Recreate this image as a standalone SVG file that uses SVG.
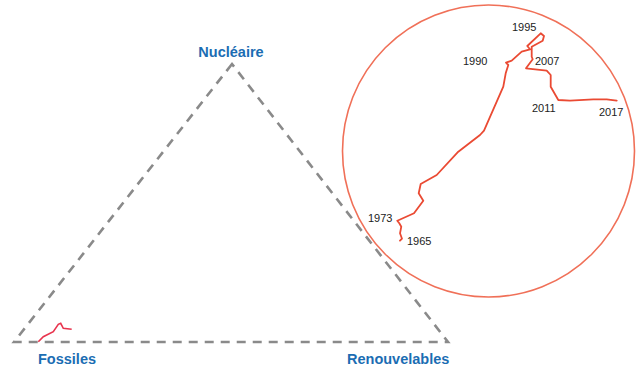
<svg xmlns="http://www.w3.org/2000/svg" width="637" height="371" viewBox="0 0 637 371">
<style>
.lbl{font-family:"Liberation Sans",Arial,sans-serif;font-weight:bold;font-size:14.5px;fill:#1b6db3}
.yr{font-family:"Liberation Sans",Arial,sans-serif;font-size:11px;fill:#222}
.tri{fill:none;stroke:#8a8a8a;stroke-width:2.6;stroke-dasharray:9 7}
.trace{fill:none;stroke:#ea4a33;stroke-width:1.8;stroke-linejoin:round;stroke-linecap:round}
</style>
<rect width="637" height="371" fill="#fff"/>
<g id="connectors">
<path class="tri" d="M232,64 L14,342 L448,342 Z"/>
</g>
<g id="fossiles">
<text class="lbl" x="38" y="364">Fossiles</text>
<path d="M38.3,341.7 L43.3,336.7 L53.3,331.7 L58.3,324.3 L60.7,323.3 L63.3,328.3 L71.7,329.3" fill="none" stroke="#e8344e" stroke-width="1.6"/>
</g>
<g id="nucleaire">
<text class="lbl" x="231" y="57" text-anchor="middle">Nucléaire</text>
</g>
<g id="renouvelables">
<text class="lbl" x="347" y="364">Renouvelables</text>
</g>
<g id="zoom-circle">
<circle cx="488.5" cy="151" r="146" fill="none" stroke="#f07058" stroke-width="1.6"/>
<path class="trace" d="M400,240.7 L402,238.7 L400,233.3 L401.3,226.7 L399.3,223.3 L397.3,220.7 L414,213.3 L423.3,200.7 L418.7,193.3 L420.7,184 L436.7,175 L458.3,151.7 L480,135 L484,130.7 L503.3,86.7 L505.7,73.3 L508.3,65 L506,62.7 L511.7,60.7 L521.7,51.7 L530,49.3 L527.3,46 L540.7,33.3 L544,36 L542.7,40.7 L531.7,46.7 L531.7,56.7 L532.7,59.3 L526,68.3 L546.7,70.7 L550.7,75 L550.7,86.7 L558.3,100 L570,100.7 L593.3,99.3 L606.7,99.3 L616.7,100.7"/>
<text class="yr" x="512" y="31">1995</text>
<text class="yr" x="463" y="65">1990</text>
<text class="yr" x="535" y="65">2007</text>
<text class="yr" x="532" y="112">2011</text>
<text class="yr" x="599" y="116">2017</text>
<text class="yr" x="368" y="222">1973</text>
<text class="yr" x="407" y="245">1965</text>
</g>
</svg>
